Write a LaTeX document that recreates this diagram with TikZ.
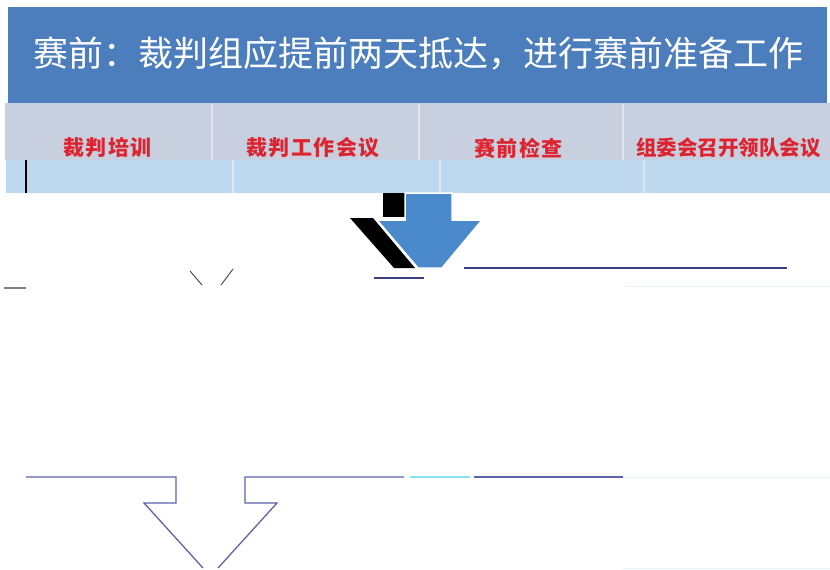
\documentclass[tikz,border=0pt]{standalone}
\usepackage{fontspec}
\setmainfont{Noto Sans CJK SC}
\definecolor{titleblue}{HTML}{4C7EBD}
\definecolor{grayrow}{HTML}{C8D0DF}
\definecolor{lightrow}{HTML}{BDD8EF}
\definecolor{labred}{HTML}{DE2330}
\definecolor{arrowblue}{HTML}{4A89CC}
\definecolor{navy}{HTML}{3B3F80}
\definecolor{outlineblue}{HTML}{5C62AE}
\definecolor{faintcyan}{HTML}{E4F6FB}
\tikzset{
  titletext/.style={text=white,font=\fontsize{35}{35}\selectfont,inner sep=0pt},
  labtext/.style={text=labred,font=\fontsize{21}{21}\selectfont\bfseries\addfontfeature{LetterSpace=7},inner sep=0pt},
  labtight/.style={text=labred,font=\fontsize{20.5}{21}\selectfont\bfseries,inner sep=0pt},
  graydiv/.style={draw=white!45!grayrow,line width=1.5pt},
  bluediv/.style={draw=white!40!lightrow,line width=1.5pt},
  navyline/.style={draw=navy,line width=1.6pt},
  outlinearrow/.style={draw=outlineblue,line width=1.3pt},
}
\begin{document}
\begin{tikzpicture}[x=1pt,y=-1pt]
\useasboundingbox (0,0) rectangle (830,570);
\clip (0,0) rectangle (830,570);
% title bar
\fill[titleblue] (8,7) rectangle (827,103);
\node[titletext,anchor=west] (title) at (33,54) {赛前：裁判组应提前两天抵达，进行赛前准备工作};
% grey row
\fill[grayrow] (5,103) rectangle (830,160);
\draw[graydiv] (212,104) -- (212,160);
\draw[graydiv] (419,104) -- (419,160);
\draw[graydiv] (623,104) -- (623,160);
% light blue row
\fill[lightrow] (6,160) rectangle (830,193);
\draw[bluediv] (233,160) -- (233,193);
\draw[bluediv] (440,160) -- (440,193);
\draw[bluediv] (644,160) -- (644,193);
\draw[black,line width=1.5pt] (26,160) -- (26,193);
% labels
\node[labtext,anchor=west] (c1) at (63,148) {裁判培训};
\node[labtext,anchor=west] (c2) at (246,148) {裁判工作会议};
\node[labtext,anchor=west] (c3) at (474,148) {赛前检查};
\node[labtight,anchor=west] (c4) at (636,148) {组委会召开领队会议};
% blue arrow with black shadow
\fill[black] (383,193) rectangle (405,217);
\fill[black] (350,218) -- (373,218) -- (415,268) -- (394,268) -- cycle;
\filldraw[fill=arrowblue,draw=white,line width=1.5pt] (405,193) -- (452,193) -- (452,220) -- (482,220) -- (442,268) -- (418,268) -- (377,220) -- (405,220) -- cycle;
% horizontal fragments
\draw[navyline] (464,268) -- (787,268);
\draw[navyline] (374,278) -- (424,278);
\draw[draw=gray,line width=1.6pt] (4,288) -- (26,288);
\draw[draw=darkgray,line width=0.9pt] (190,271) -- (202,285);
\draw[draw=darkgray,line width=0.9pt] (233,269) -- (221,285);
\draw[faintcyan,line width=1pt] (625,286) -- (830,286);
% bottom outline arrow
\draw[outlinearrow] (26,477) -- (176,477) -- (176,503) -- (144,503) -- (203,568);
\draw[outlinearrow] (218,568) -- (277,503) -- (245,503) -- (245,477) -- (404,477);
\draw[draw=lightrow!70!cyan,line width=1.3pt] (410,477) -- (470,477);
\draw[outlinearrow] (474,477) -- (623,477);
\draw[faintcyan,line width=1pt] (623,477) -- (830,477);
\draw[faintcyan,line width=1pt] (623,568) -- (830,568);
\end{tikzpicture}
\end{document}
